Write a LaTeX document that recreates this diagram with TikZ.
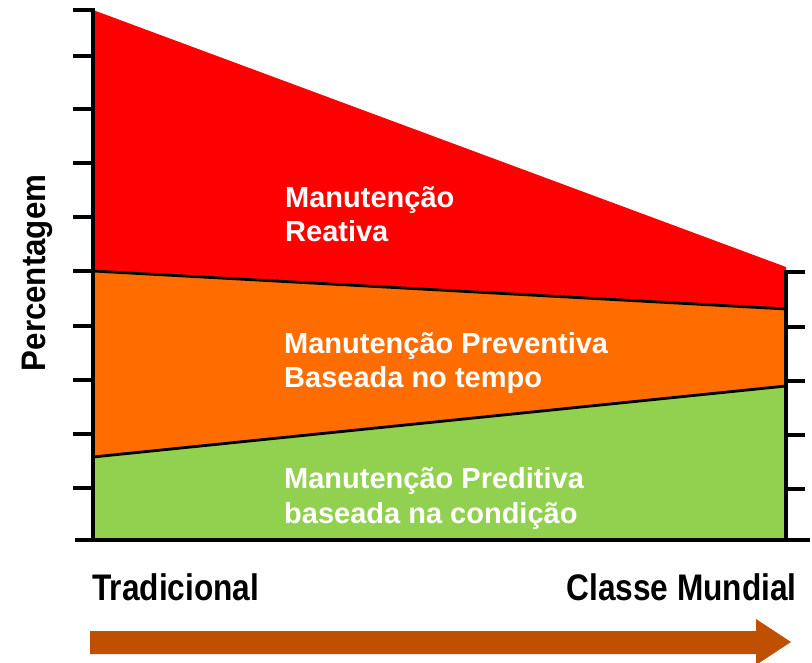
\documentclass[tikz,border=0pt]{standalone}
\usepackage{fontspec}
\setmainfont{Liberation Sans}
\newfontfamily\narrowbold[FakeStretch=0.855]{Liberation Sans Bold}
\newfontfamily\ylabfont[FakeStretch=0.92]{Liberation Sans Bold}
\definecolor{cred}{HTML}{FF0000}
\definecolor{corange}{HTML}{FF6D00}
\definecolor{cgreen}{HTML}{92D050}
\definecolor{carrow}{HTML}{C05000}
\tikzset{
  axis/.style={line width=3.6bp, black},
  tick/.style={line width=3.6bp, black},
  border/.style={line width=2.8bp, black},
  inlabel/.style={text=white, font=\bfseries\fontsize{29bp}{34.5bp}\selectfont, align=left, inner sep=0pt, anchor=base west},
  xlab/.style={font=\narrowbold\fontsize{37bp}{40bp}\selectfont, inner sep=0pt},
}
\begin{document}
\begin{tikzpicture}[x=1bp,y=-1bp]
\useasboundingbox (0,0) rectangle (812,663);
% corner coordinates
\coordinate (LT) at (93,10);
\coordinate (LR) at (93,271);
\coordinate (LO) at (93,457);
\coordinate (LB) at (93,540);
\coordinate (RT) at (786,267);
\coordinate (RR) at (786,309);
\coordinate (RO) at (786,386);
\coordinate (RB) at (786,540);
% areas
\fill[cred] (LT) -- (RT) -- (RR) -- (LR) -- cycle;
\fill[corange] (LR) -- (RR) -- (RO) -- (LO) -- cycle;
\fill[cgreen] (LO) -- (RO) -- (RB) -- (LB) -- cycle;
\draw[border] (LR) -- (RR);
\draw[border] (LO) -- (RO);
% left axis
\draw[axis] (93,8.2) -- (LB);
\foreach \yy in {10,56,109,163,217,271,326,380,434,488}
  \draw[tick] (73,\yy) -- (93,\yy);
% bottom axis
\coordinate (BL) at (75,540);
\coordinate (BR) at (810,540);
\draw[axis] (BL) -- (BR);
% right axis
\draw[axis] (786,270.2) -- (RB);
\foreach \yy in {272,327,381,435,489}
  \draw[tick] (786,\yy) -- (805,\yy);
% labels (anchored at the baseline of the last line)
\node[inlabel] (reat) at (285,241.5) {Manutenção\\Reativa};
\node[inlabel] (prev) at (284,387.5) {Manutenção Preventiva\\Baseada no tempo};
\node[inlabel] (pred) at (284,523) {Manutenção Preditiva\\baseada na condição};
\node[xlab, anchor=base west] (trad) at (92,600) {Tradicional};
\node[xlab, anchor=base east] (cm) at (797,600) {Classe Mundial};
\node[font=\ylabfont\fontsize{34bp}{36bp}\selectfont, inner sep=0pt, rotate=90, anchor=base] (perc) at (45,273) {Percentagem};
% arrow
\fill[carrow] (90,631) -- (756,631) -- (756,619) -- (791,642) -- (756,665) -- (756,654) -- (90,654) -- cycle;
\end{tikzpicture}
\end{document}
